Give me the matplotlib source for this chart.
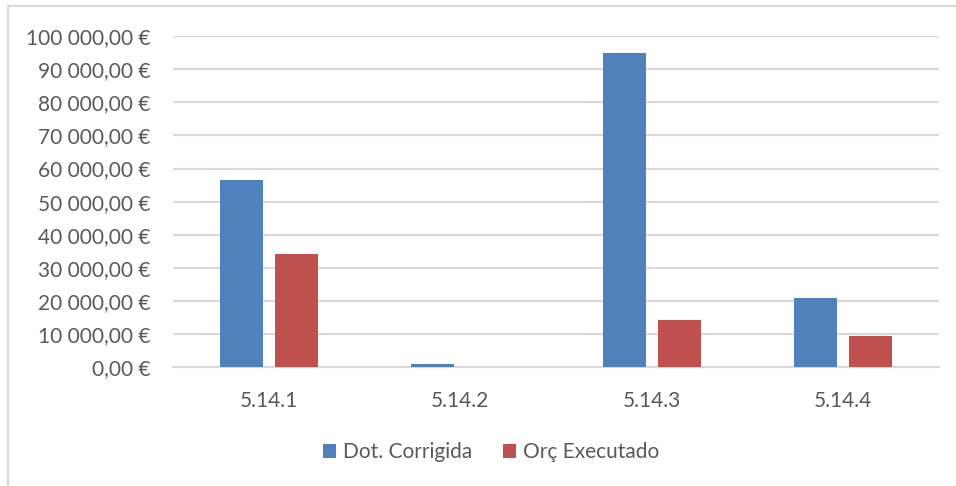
import matplotlib
matplotlib.use("Agg")
import matplotlib.pyplot as plt
import numpy as np
from matplotlib.lines import Line2D
from matplotlib.ticker import FuncFormatter

categories = ["5.14.1", "5.14.2", "5.14.3", "5.14.4"]
dot_corrigida = [56500, 1100, 94800, 20900]
orc_executado = [34200, 0, 14200, 9400]
series_names = ["Dot. Corrigida", "Orç Executado"]
yticks = list(range(0, 100001, 10000))

plt.rcParams['font.family'] = ['Lato', 'DejaVu Sans']

fig = plt.figure(figsize=(9.56, 4.86), dpi=100)
# outer chart border (only top and left visible in the crop)
fig.lines.append(Line2D([7.5/956, 7.5/956, 1.0], [0.0, 1-6.5/486, 1-6.5/486],
                        transform=fig.transFigure, color="#d9d9d9", linewidth=1.5))
ax = fig.add_axes([173/956, 1-367.3/486, (939-173)/956, (367.3-36)/486])

x = np.arange(len(categories))
w = 0.225
off = 0.1436
ax.bar(x - off, dot_corrigida, w, color="#4F81BD", label=series_names[0], zorder=3)
ax.bar(x + off, orc_executado, w, color="#C0504D", label=series_names[1], zorder=3)

ax.set_xlim(-0.5, len(categories) - 0.5)
ax.set_ylim(0, 100000)
ax.set_yticks(yticks)

def fmt(v, pos):
    s = f"{int(v):,}".replace(",", " ")
    return f"{s},00 €"
ax.yaxis.set_major_formatter(FuncFormatter(fmt))
ax.set_xticks(x)
ax.set_xticklabels(categories)

ax.grid(axis="y", color="#d9d9d9", linewidth=1.5, zorder=0)
for s in ["top", "right", "left"]:
    ax.spines[s].set_visible(False)
ax.spines["bottom"].set_color("#d9d9d9")
ax.spines["bottom"].set_linewidth(1.5)
ax.tick_params(axis="both", length=0, colors="#595959", labelsize=15)
ax.tick_params(axis="y", pad=16)
ax.tick_params(axis="x", pad=17)

leg = fig.legend(loc="center", bbox_to_anchor=(491/956, 1-452/486), ncol=2, frameon=False,
                 fontsize=15, handlelength=0.65, handleheight=0.65, handletextpad=0.34,
                 columnspacing=1.45, labelcolor="#595959")

fig.savefig("out.png", dpi=100)
